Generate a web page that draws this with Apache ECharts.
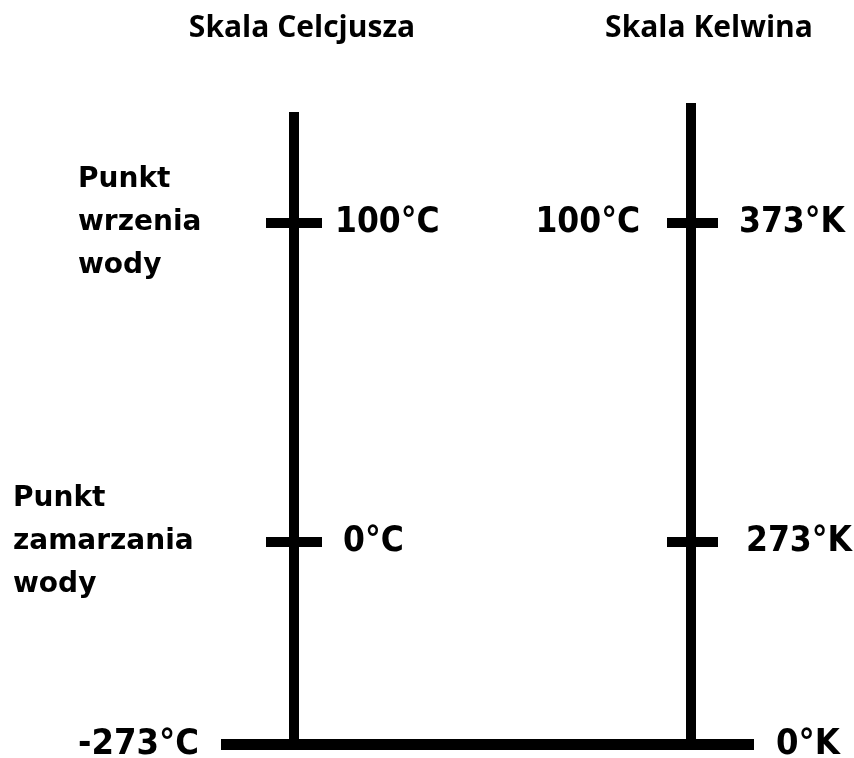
<!DOCTYPE html>
<html><head><meta charset="utf-8">
<script src="https://cdn.jsdelivr.net/npm/echarts@6/dist/echarts.min.js"></script>
<style>html,body{margin:0;padding:0;background:#fff}#c{width:854px;height:758px}</style>
</head><body><div id="c"></div>
<script>
// ---------- data ----------
const scaleNames = ['Skala Celcjusza', 'Skala Kelwina'];
const pointNames = ['Punkt\nzamarzania\nwody', 'Punkt\nwrzenia\nwody']; // for freezing, boiling
const celsiusValues = [-273, 0, 100];   // absolute zero, freezing, boiling
const kelvinValues = [0, 273, 373];
const celsiusUnit = '°C';
const kelvinUnit = '°K';

// ---------- layout (pixels / axis extents, not data) ----------
const W = 854;
const scaleX = [294, 691];
const tickExt = [[-28, 28], [-24, 27]];
const baseExt = [221, 754];
const upperTop = 95.4, splitY = 542, lowerBottom = 13.5;
const celsiusUpperMax = 140, kelvinUpperMax = 413;
const lineTop = [134.8, 410.6];          // C axis, K axis
const titleX = [297, 704];
const pointLabelX = [13, 78];
const celsiusGap = [22, 21, 13];
const kelvinGap = [22, 28, 21];
const kelvinCelsiusGap = 27;

const INK = '#000000';
const numFont = {fontFamily: 'DejaVu Sans Condensed, DejaVu Sans', fontSize: 35, fontWeight: 'bold'};
const baseFont = {fontFamily: 'Liberation Sans Narrow, DejaVu Sans Condensed', fontSize: 36, fontWeight: 'bold'};
const nameFont = {fontFamily: 'DejaVu Sans', fontSize: 28, fontWeight: 'bold', lineHeight: 43};

// axis selection: upper grid holds values from freezing upwards
function cAxis(v) { return v >= celsiusValues[1] ? {x: 0, y: 0} : {x: 1, y: 2}; }
function kAxis(v) { return v >= kelvinValues[1] ? {x: 0, y: 1} : {x: 1, y: 3}; }

const series = [];
function seg(ax, data, width) {
  series.push({
    type: 'line', xAxisIndex: ax.x, yAxisIndex: ax.y, data: data,
    symbol: 'none', clip: false, silent: true, animation: false,
    lineStyle: {color: INK, width: width, cap: 'butt'}
  });
}
function lab(ax, x, y, text, pos, dist, font) {
  series.push({
    type: 'scatter', xAxisIndex: ax.x, yAxisIndex: ax.y, clip: false, silent: true, animation: false,
    symbolSize: 0, itemStyle: {color: INK},
    data: [[x, y]],
    label: {show: true, position: pos, distance: dist, verticalAlign: 'middle',
      formatter: '{t|' + text + '}',
      rich: {t: Object.assign({color: INK, opacity: 1, textBorderWidth: 0, textShadowBlur: 0}, font)}}
  });
}

// vertical scale lines: lower part (bottom..freezing) + upper part (freezing..top)
seg(cAxis(celsiusValues[0]), [[scaleX[0], celsiusValues[0]], [scaleX[0], celsiusValues[1]]], 10);
seg(cAxis(celsiusValues[1]), [[scaleX[0], celsiusValues[1]], [scaleX[0], lineTop[0]]], 10);
seg(kAxis(kelvinValues[0]), [[scaleX[1], kelvinValues[0]], [scaleX[1], kelvinValues[1]]], 10);
seg(kAxis(kelvinValues[1]), [[scaleX[1], kelvinValues[1]], [scaleX[1], lineTop[1]]], 10);
// baseline at absolute zero
seg(kAxis(kelvinValues[0]), [[baseExt[0], kelvinValues[0]], [baseExt[1], kelvinValues[0]]], 11);

// ticks + labels
for (let i = 1; i < celsiusValues.length; i++) {
  const c = celsiusValues[i], k = kelvinValues[i];
  seg(cAxis(c), [[scaleX[0] + tickExt[0][0], c], [scaleX[0] + tickExt[0][1], c]], 10);
  seg(kAxis(k), [[scaleX[1] + tickExt[1][0], k], [scaleX[1] + tickExt[1][1], k]], 10);
  lab(cAxis(c), scaleX[0] + tickExt[0][1], c, c + celsiusUnit, 'right', celsiusGap[i], numFont);
  lab(kAxis(k), scaleX[1] + tickExt[1][1], k, k + kelvinUnit, 'right', kelvinGap[i], numFont);
  const lines = pointNames[i - 1].split('\n').map(s => '{t|' + s + '}').join('\n');
  series.push({
    type: 'scatter', xAxisIndex: cAxis(c).x, yAxisIndex: cAxis(c).y, clip: false, silent: true, animation: false,
    symbolSize: 0, itemStyle: {color: INK}, data: [[pointLabelX[i - 1], c]],
    label: {show: true, position: 'right', distance: 0, verticalAlign: 'middle', align: 'left',
      formatter: lines, lineHeight: 43,
      rich: {t: Object.assign({color: INK, opacity: 1}, nameFont)}}
  });
}
// Celsius reading next to the Kelvin scale (boiling)
lab(kAxis(kelvinValues[2]), scaleX[1] + tickExt[1][0], kelvinValues[2], celsiusValues[2] + celsiusUnit, 'left', kelvinCelsiusGap, numFont);
// bottom labels
lab(cAxis(celsiusValues[0]), baseExt[0], celsiusValues[0], celsiusValues[0] + celsiusUnit, 'left', celsiusGap[0], baseFont);
lab(kAxis(kelvinValues[0]), baseExt[1], kelvinValues[0], kelvinValues[0] + kelvinUnit, 'right', kelvinGap[0], baseFont);

const hidden = {show: false};
const option = {
  backgroundColor: '#fff',
  animation: false,
  title: scaleNames.map((n, i) => ({
    text: n, left: titleX[i], top: 8, textAlign: 'center',
    textStyle: {fontFamily: 'Open Sans', fontSize: 30, fontWeight: 'bold', color: INK}
  })),
  grid: [
    {left: 0, right: 0, top: upperTop, height: splitY - upperTop},
    {left: 0, right: 0, top: splitY, bottom: lowerBottom}
  ],
  xAxis: [
    Object.assign({type: 'value', gridIndex: 0, min: 0, max: W}, hidden),
    Object.assign({type: 'value', gridIndex: 1, min: 0, max: W}, hidden)
  ],
  yAxis: [
    Object.assign({type: 'value', gridIndex: 0, min: celsiusValues[1], max: celsiusUpperMax}, hidden),
    Object.assign({type: 'value', gridIndex: 0, min: kelvinValues[1], max: kelvinUpperMax}, hidden),
    Object.assign({type: 'value', gridIndex: 1, min: celsiusValues[0], max: celsiusValues[1]}, hidden),
    Object.assign({type: 'value', gridIndex: 1, min: kelvinValues[0], max: kelvinValues[1]}, hidden)
  ],
  series: series
};
const chart = echarts.init(document.getElementById('c'), null, {renderer: 'canvas'});
chart.setOption(option);
</script>
</body></html>
